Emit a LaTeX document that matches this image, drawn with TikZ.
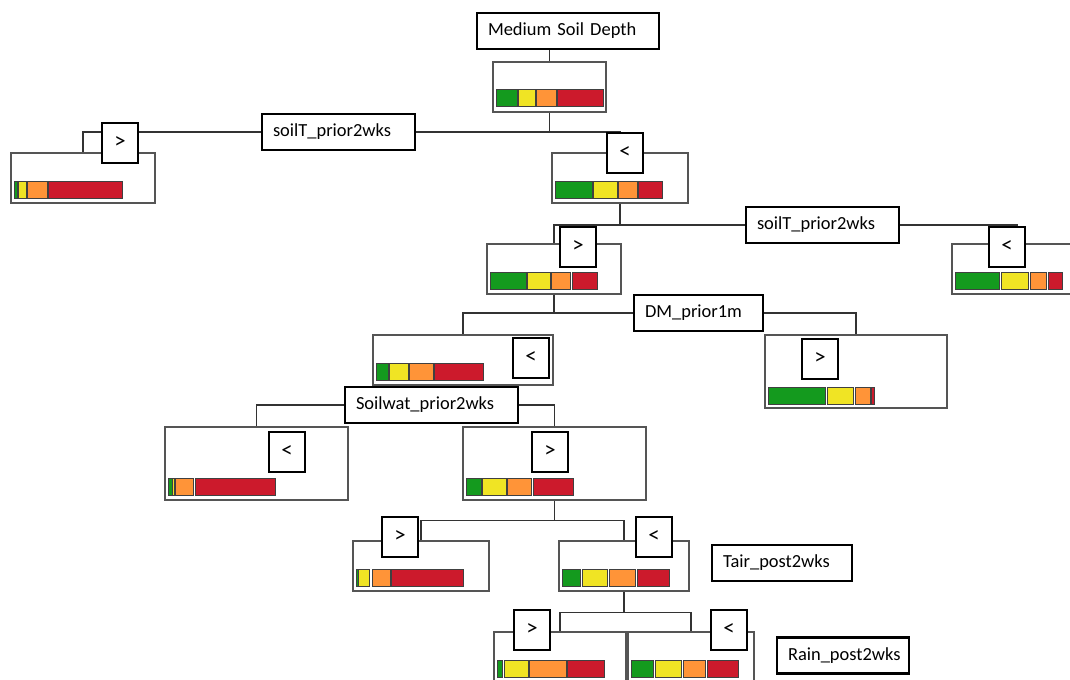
\documentclass[tikz,border=0pt]{standalone}
\usepackage{fontspec}
\setmainfont{Carlito}
\usetikzlibrary{calc}
\definecolor{pgreen}{HTML}{149A1E}
\definecolor{pyellow}{HTML}{F0E424}
\definecolor{porange}{HTML}{FF9438}
\definecolor{pred}{HTML}{CC1A2C}
\definecolor{boxgray}{HTML}{555555}
\newcommand{\probbar}[2]{%
  \foreach \a/\b/\c in {#2}
    \filldraw[segment, fill=\c] (\a,#1) rectangle (\b,#1+17);}

\begin{document}
\begin{tikzpicture}[x=0.02cm, y=-0.02cm,
    leafbox/.style 2 args={draw=boxgray, line width=0.6pt, minimum width=#1*0.02cm, minimum height=#2*0.02cm, inner sep=0pt},
    signbox/.style={draw, line width=1.4pt, fill=white, minimum width=0.72cm, minimum height=0.8cm, inner sep=0pt, font=\fontsize{13}{15}\selectfont},
    splitbox/.style={draw, line width=1.2pt, fill=white, minimum height=0.72cm, inner xsep=0.22cm, text width=#1, align=left, font=\fontsize{10.5}{12}\selectfont},
    segment/.style={draw=black!75, line width=0.4pt},
    link/.style={draw=black!80, line width=0.6pt}]
  \useasboundingbox (0,0) rectangle (1070,679);
  \clip (0,0) rectangle (1070,679);

  \node[splitbox=3.2cm] (title) at (568,31) {Medium Soil Depth};
  \node[splitbox=2.62cm] (soilTa) at (338.5,132) {soilT\_prior2wks};
  \node[splitbox=2.62cm] (soilTb) at (822.5,225) {soilT\_prior2wks};
  \node[splitbox=2.14cm] (dm) at (698.5,313) {DM\_prior1m};
  \node[splitbox=3.02cm] (soilwat) at (431.5,405) {Soilwat\_prior2wks};
  \node[splitbox=2.36cm] (tair) at (782,563) {Tair\_post2wks};
  \node[splitbox=2.2cm] (rain) at (843,655.5) {Rain\_post2wks};

  \node[leafbox={113}{50}] (root) at (549.5,87) {};
  \node[leafbox={144}{50}] (leafA) at (83,178) {};
  \node[leafbox={136}{50}] (leafB) at (620,178) {};
  \node[leafbox={134}{50}] (leafC) at (554,269) {};
  \node[leafbox={130}{50}] (leafD) at (1017,269) {};
  \node[leafbox={180}{50}] (leafE) at (463,360) {};
  \node[leafbox={182}{73}] (leafF) at (856,371.5) {};
  \node[leafbox={183}{73}] (leafG) at (256.5,463.5) {};
  \node[leafbox={183}{73}] (leafH) at (554.5,463.5) {};
  \node[leafbox={136}{50}] (leafI) at (421,566) {};
  \node[leafbox={130}{50}] (leafJ) at (624,566) {};
  \node[leafbox={132}{50}] (leafK) at (560,657) {};
  \node[leafbox={126}{50}] (leafL) at (691,657) {};

  \draw[link] (title.south -| root.north) -- (root.north);
  \draw[link] (root.south) -- (root.south |- soilTa.east);
  \draw[link] (soilTa.west) -| (leafA.north);
  \draw[link] (soilTa.east) -| (leafB.north);
  \draw[link] (leafB.south) -- (leafB.south |- soilTb.west);
  \draw[link] (soilTb.west) -| (leafC.north);
  \draw[link] (soilTb.east) -| (leafD.north);
  \draw[link] (leafC.south) -- (leafC.south |- dm.west);
  \draw[link] (dm.west) -| (leafE.north);
  \draw[link] (dm.east) -| (leafF.north);
  \draw[link] (soilwat.west) -| (leafG.north);
  \draw[link] (soilwat.east) -| (leafH.north);
  \draw[link] (leafH.south) -- ++(0,20) coordinate (jH);
  \draw[link] (leafI.north) |- (jH) -| (leafJ.north);
  \draw[link] (leafJ.south) -- ++(0,21) coordinate (jJ);
  \draw[link] (leafK.north) |- (jJ) -| (leafL.north);

  % class shares per leaf
  \probbar{89}{496/517/pgreen, 518/535/pyellow, 536/556/porange, 557/603/pred}
  \probbar{181}{14/17.5/pgreen, 18/26/pyellow, 27/47/porange, 48/122/pred}
  \probbar{181}{555/592/pgreen, 593/617/pyellow, 618/637/porange, 638/662/pred}
  \probbar{272}{490/526/pgreen, 527/550/pyellow, 551/570/porange, 572/597/pred}
  \probbar{272}{955/999/pgreen, 1001/1028/pyellow, 1030/1046/porange, 1048/1062/pred}
  \probbar{363}{376/388/pgreen, 389/408/pyellow, 409/433/porange, 434/483/pred}
  \probbar{387}{768/825/pgreen, 827/853/pyellow, 855/870/porange, 871/874/pred}
  \probbar{478}{168/172/pgreen, 172.5/174/pyellow, 175/193/porange, 195/275/pred}
  \probbar{478}{466/481/pgreen, 482/506/pyellow, 507/531/porange, 533/573/pred}
  \probbar{569}{356/358/pgreen, 358.5/369/pyellow, 372/390/porange, 391/463/pred}
  \probbar{569}{562/580/pgreen, 582/607/pyellow, 609/635/porange, 637/669/pred}
  \probbar{660}{497/502/pgreen, 504/528/pyellow, 529/566/porange, 567/604/pred}
  \probbar{660}{631/653/pgreen, 655/681/pyellow, 683/705/porange, 707/738/pred}

  \node[signbox] (gtA) at (120,143) {>};
  \node[signbox] (ltA) at (625,153) {<};
  \node[signbox] (gtB) at (578,247) {>};
  \node[signbox] (ltB) at (1007,247) {<};
  \node[signbox] (ltC) at (531,358) {<};
  \node[signbox] (gtD) at (820,359) {>};
  \node[signbox] (ltE) at (287,452) {<};
  \node[signbox] (gtF) at (550,452) {>};
  \node[signbox] (gtG) at (400,537) {>};
  \node[signbox] (ltH) at (654,537) {<};
  \node[signbox] (gtI) at (532,630) {>};
  \node[signbox] (ltJ) at (729,630) {<};
\end{tikzpicture}
\end{document}
